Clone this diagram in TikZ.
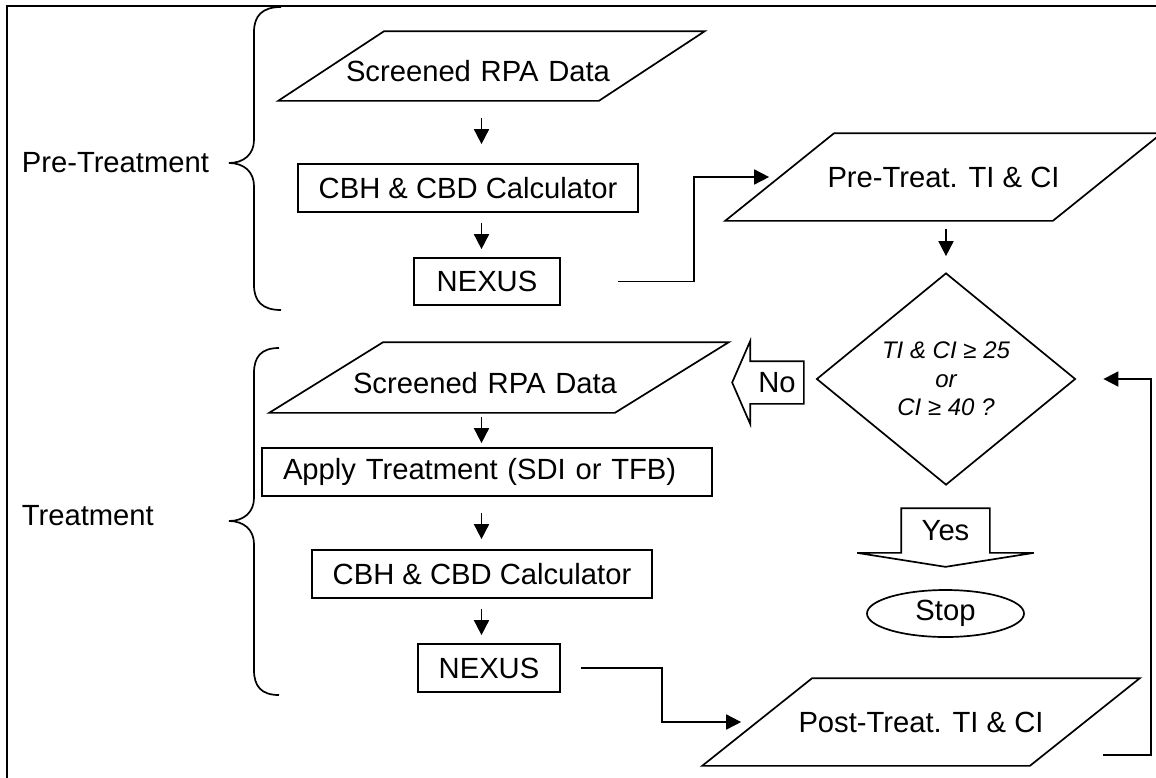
\documentclass[tikz,border=0pt]{standalone}
\usepackage{fontspec}
\setmainfont{Liberation Sans}
\usetikzlibrary{arrows.meta,shapes.geometric,calc}
\begin{document}
\begin{tikzpicture}
[x=1pt, y=-1pt, line width=1.7pt,
 every node/.style={inner sep=0pt, font=\fontsize{29.2pt}{35pt}\selectfont},
 procbox/.style={draw, minimum height=48pt},
 arr/.style={-{Triangle[length=15pt,width=15pt]}}]
\useasboundingbox (0,0) rectangle (1156,777);
\draw (7,790) -- (7,6) -- (1170,6);
\coordinate (spine) at (481.5,0);
\coordinate (jog1) at (694,0);
\coordinate (jog2) at (662,0);
% pre-treatment
\node[anchor=west] (pretag) at (21,163) {Pre-Treatment};
\draw (281,7) .. controls (262,7) and (254,16) .. (254,32) -- (254,140) .. controls (254,154) and (244,163) .. (229,163) .. controls (244,163) and (254,172) .. (254,186) -- (254,285) .. controls (254,301) and (262,310) .. (281,310);
\node[minimum width=319pt, minimum height=68pt, inner xsep=14pt, text width=291pt, align=left, text height=31pt, text depth=0pt] (rawpre) at (491.5,66) {Screened RPA Data};
\draw ([xshift=-53pt]rawpre.south west) -- ([xshift=53pt]rawpre.north west) -- ([xshift=53pt]rawpre.north east) -- ([xshift=-53pt]rawpre.south east) -- cycle;
\node[procbox, minimum width=340pt] (calcpre) at (468,188) {CBH \& CBD Calculator};
\node[procbox, minimum width=146pt, minimum height=47pt] (nexuspre) at (487,281.5) {NEXUS};
\node[minimum width=326pt, minimum height=86pt] (indexpre) at (943.5,177) {Pre-Treat. TI \& CI};
\draw ([xshift=-54.5pt]indexpre.south west) -- ([xshift=54.5pt]indexpre.north west) -- ([xshift=54.5pt]indexpre.north east) -- ([xshift=-54.5pt]indexpre.south east) -- cycle;
\draw[arr, shorten <=17pt, shorten >=19pt] (rawpre.south -| spine) -- (calcpre.north -| spine);
\draw[arr, shorten <=10pt, shorten >=8pt] (calcpre.south -| spine) -- (nexuspre.north -| spine);
\draw[arr, shorten <=57pt, shorten >=10.5pt] (nexuspre.east) -- (nexuspre.east -| jog1) |- (indexpre.west);
% decision
\node[draw, diamond, aspect=1.22, minimum width=259pt, minimum height=212pt, align=center, font=\fontsize{24pt}{28.5pt}\selectfont\itshape] (test) at (946,379) {TI \& CI ≥ 25\\or\\CI ≥ 40 ?};
\draw[arr, shorten <=8pt, shorten >=16pt] (indexpre.south -| test.north) -- (test.north);
\node[minimum width=52pt, minimum height=41pt] (nocue) at (777,382.5) {No};
\draw (nocue.north east) -- (nocue.north west) -- ++(0,-20) -- ([xshift=-18pt]nocue.west) -- ([yshift=-20pt]nocue.south west) -- (nocue.south west) -- (nocue.south east) -- cycle;
\node[minimum width=87pt, minimum height=43pt] (yescue) at (945.5,530.5) {Yes};
\draw (yescue.south west) -- (yescue.north west) -- (yescue.north east) -- (yescue.south east) -- ++(44,0) -- ([yshift=-14pt]yescue.south) -- ([xshift=-44pt]yescue.south west) -- cycle;
\node[draw, ellipse, minimum width=157pt, minimum height=47pt] (stop) at (945.5,613.5) {Stop};
% treatment
\node[anchor=west] (treattag) at (21,516) {Treatment};
\draw (279,348) .. controls (261,348) and (254,357) .. (254,373) -- (254,498) .. controls (254,512) and (244,521) .. (229,521) .. controls (244,521) and (254,530) .. (254,544) -- (254,670) .. controls (254,686) and (261,695) .. (279,695);
\node[minimum width=344pt, minimum height=69pt, inner xsep=26pt, text width=292pt, align=left, text height=31pt, text depth=0pt] (rawtr) at (499,377.5) {Screened RPA Data};
\draw ([xshift=-57pt]rawtr.south west) -- ([xshift=57pt]rawtr.north west) -- ([xshift=57pt]rawtr.north east) -- ([xshift=-57pt]rawtr.south east) -- cycle;
\node[procbox, minimum width=450pt, inner xsep=21pt, text width=408pt, align=left] (applytr) at (487,472) {Apply Treatment (SDI or TFB)};
\node[procbox, minimum width=340pt] (calctr) at (482,574) {CBH \& CBD Calculator};
\node[procbox, minimum width=142pt] (nexustr) at (489,668) {NEXUS};
\node[minimum width=326pt, minimum height=86pt] (indexpost) at (921,722) {Post-Treat. TI \& CI};
\draw ([xshift=-55pt]indexpost.south west) -- ([xshift=55pt]indexpost.north west) -- ([xshift=55pt]indexpost.north east) -- ([xshift=-55pt]indexpost.south east) -- cycle;
\draw[arr, shorten <=4pt, shorten >=4pt] (rawtr.south -| spine) -- (applytr.north -| spine);
\draw[arr, shorten <=16pt, shorten >=10pt] (applytr.south -| spine) -- (calctr.north -| spine);
\draw[arr, shorten <=10pt, shorten >=8pt] (calctr.south -| spine) -- (nexustr.north -| spine);
\draw[arr, shorten <=20pt, shorten >=16pt] (nexustr.east) -- (nexustr.east -| jog2) |- (indexpost.west);
\draw[arr, shorten >=27pt] ([shift={(18pt,11pt)}]indexpost.south east) -- ++(48,0) |- (test.east);
\end{tikzpicture}
\end{document}
